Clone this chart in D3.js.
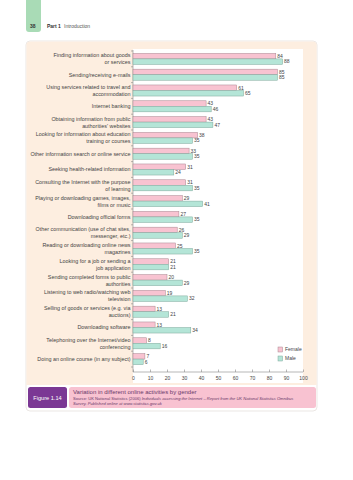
<!DOCTYPE html>
<html>
<head>
<meta charset="utf-8">
<script src="https://cdn.jsdelivr.net/npm/d3@7"></script>
<style>
  body { margin: 0; background: #fff; }
  svg { display: block; font-family: "Liberation Sans", Arial, sans-serif; }
  .lbl { font-size: 5.4px; fill: #444; }
  .val { font-size: 5px; fill: #444; }
  .axis text { font-size: 5px; fill: #444; }
  .axis path, .axis line { stroke: #888; stroke-width: 0.6; }
</style>
</head>
<body>
<script>
// activities (each label split into lines)
let categories = [
  ["Finding information about goods", "or services"],
  ["Sending/receiving e-mails"],
  ["Using services related to travel and", "accommodation"],
  ["Internet banking"],
  ["Obtaining information from public", "authorities' websites"],
  ["Looking for information about education", "training or courses"],
  ["Other information search or online service"],
  ["Seeking health-related information"],
  ["Consulting the Internet with the purpose", "of learning"],
  ["Playing or downloading games, images,", "films or music"],
  ["Downloading official forms"],
  ["Other communication (use of chat sites,", "messenger, etc.)"],
  ["Reading or downloading online news", "magazines"],
  ["Looking for a job or sending a", "job application"],
  ["Sending completed forms to public", "authorities"],
  ["Listening to web radio/watching web", "television"],
  ["Selling of goods or services (e.g. via", "auctions)"],
  ["Downloading software"],
  ["Telephoning over the Internet/video", "conferencing"],
  ["Doing an online course (in any subject)"]
];
let female = [84, 85, 61, 43, 43, 38, 33, 31, 31, 29, 27, 26, 25, 21, 20, 19, 13, 13, 8, 7];
let male   = [88, 85, 65, 46, 47, 35, 35, 24, 35, 41, 35, 29, 35, 21, 29, 32, 21, 34, 16, 6];
let xTicks = [0, 10, 20, 30, 40, 50, 60, 70, 80, 90, 100];
let seriesNames = ["Female", "Male"];

let colors = { Female: "#f8c3d1", Male: "#b4e5d7" };
let strokes = { Female: "#a88690", Male: "#7fa79b" };

let W = 353, H = 480;
let svg = d3.select("body").append("svg")
  .attr("width", W)
  .attr("height", H);

// page header
svg.append("rect").attr("x", 26).attr("y", -4).attr("width", 15).attr("height", 36)
  .attr("rx", 3).attr("fill", "#a9dbb6");
svg.append("text").attr("x", 30).attr("y", 27.5).attr("font-size", 5).attr("font-weight", "bold")
  .attr("fill", "#333").text("38");
svg.append("text").attr("x", 47).attr("y", 27.5).attr("font-size", 5).attr("font-weight", "bold")
  .attr("fill", "#333").text("Part 1");
svg.append("text").attr("x", 64).attr("y", 27.5).attr("font-size", 5)
  .attr("fill", "#555").text("Introduction");

// panel
svg.append("rect").attr("x", 26).attr("y", 41).attr("width", 291).attr("height", 370)
  .attr("rx", 4).attr("fill", "#fff").attr("stroke", "#e2ddd8").attr("stroke-width", 0.7);
svg.append("path")
  .attr("d", "M26.4,385 L26.4,45 Q26.4,41.4 30.4,41.4 L312.6,41.4 Q316.6,41.4 316.6,45 L316.6,385 Z")
  .attr("fill", "#fdeee0");

let margin = { left: 133, top: 50, right: 303, bottom: 372 };

let x = d3.scaleLinear().domain([0, 100]).range([margin.left, margin.right]);
let y = d3.scaleBand()
  .domain(d3.range(categories.length))
  .range([51, 367])
  .paddingInner(0.3)
  .paddingOuter(0.15);
let sub = d3.scaleBand().domain(seriesNames).range([0, y.bandwidth()]);

// white plot area
svg.append("rect").attr("x", margin.left).attr("y", 49)
  .attr("width", margin.right - margin.left).attr("height", 334).attr("fill", "#fff");

// x axis
svg.append("g").attr("class", "axis")
  .attr("transform", "translate(0," + margin.bottom + ")")
  .call(d3.axisBottom(x).tickValues(xTicks).tickSize(-2.5).tickPadding(4))
  .call(g => g.select(".domain").attr("d", "M" + margin.left + ",0H" + margin.right));

// y axis line + ticks between groups
svg.append("line").attr("x1", margin.left).attr("x2", margin.left)
  .attr("y1", 50).attr("y2", margin.bottom).attr("stroke", "#888").attr("stroke-width", 0.6);
let step = y.step();
svg.selectAll(".ytick").data(d3.range(categories.length + 1)).enter().append("line")
  .attr("x1", margin.left - 2).attr("x2", margin.left)
  .attr("y1", function(i) { return y(0) - step * 0.3 / 2 + i * step; })
  .attr("y2", function(i) { return y(0) - step * 0.3 / 2 + i * step; })
  .attr("stroke", "#888").attr("stroke-width", 0.6);

// category labels
let labels = svg.selectAll(".lbl").data(categories).enter().append("text")
  .attr("class", "lbl")
  .attr("text-anchor", "end")
  .attr("x", margin.left - 2.5)
  .attr("y", function(d, i) { return y(i) + y.bandwidth() / 2 - (d.length - 1) * 3.5 + 1.9; });
labels.selectAll("tspan").data(function(d) { return d; }).enter().append("tspan")
  .attr("x", margin.left - 2.5)
  .attr("dy", function(d, j) { return j === 0 ? 0 : 7; })
  .text(function(d) { return d; });

// bars
let rows = [];
categories.forEach(function(c, i) {
  rows.push({ i: i, s: "Female", v: female[i] });
  rows.push({ i: i, s: "Male", v: male[i] });
});

svg.selectAll(".bar").data(rows).enter().append("rect")
  .attr("x", x(0))
  .attr("y", function(d) { return y(d.i) + sub(d.s); })
  .attr("width", function(d) { return x(d.v) - x(0); })
  .attr("height", sub.bandwidth())
  .attr("fill", function(d) { return colors[d.s]; })
  .attr("stroke", function(d) { return strokes[d.s]; })
  .attr("stroke-width", 0.5);

svg.selectAll(".val").data(rows).enter().append("text")
  .attr("class", "val")
  .attr("x", function(d) { return x(d.v) + 1.5; })
  .attr("y", function(d) { return y(d.i) + sub(d.s) + sub.bandwidth() / 2 + 1.8; })
  .text(function(d) { return d.v; });

// legend
let leg = svg.selectAll(".leg").data(seriesNames).enter().append("g")
  .attr("transform", function(d, i) { return "translate(278," + (347 + i * 9) + ")"; });
leg.append("rect").attr("width", 4.5).attr("height", 5)
  .attr("fill", function(d) { return colors[d]; })
  .attr("stroke", function(d) { return strokes[d]; }).attr("stroke-width", 0.5);
leg.append("text").attr("x", 7).attr("y", 4.2).attr("font-size", 5).attr("fill", "#444")
  .text(function(d) { return d; });

// caption
svg.append("rect").attr("x", 28).attr("y", 387).attr("width", 39).attr("height", 21)
  .attr("rx", 2.5).attr("fill", "#7b3894");
svg.append("text").attr("x", 47.5).attr("y", 399.5).attr("text-anchor", "middle")
  .attr("font-size", 5.6).attr("fill", "#fff").text("Figure 1.14");
svg.append("rect").attr("x", 69).attr("y", 387).attr("width", 247).attr("height", 21)
  .attr("rx", 2.5).attr("fill", "#f8c2d1");
svg.append("text").attr("x", 73).attr("y", 393.5).attr("font-size", 6)
  .attr("fill", "#6a3a6a").text("Variation in different online activities by gender");
let src = svg.append("text").attr("x", 73).attr("y", 399.5).attr("font-size", 4.1).attr("fill", "#6a3a6a");
src.append("tspan").text("Source: UK National Statistics (2006) ");
src.append("tspan").attr("font-style", "italic")
  .text("Individuals accessing the Internet \u2013 Report from the UK National Statistics Omnibus");
svg.append("text").attr("x", 73).attr("y", 404.5).attr("font-size", 4.1).attr("fill", "#6a3a6a")
  .attr("font-style", "italic").text("Survey. Published online at www.statistics.gov.uk");
</script>
</body>
</html>
